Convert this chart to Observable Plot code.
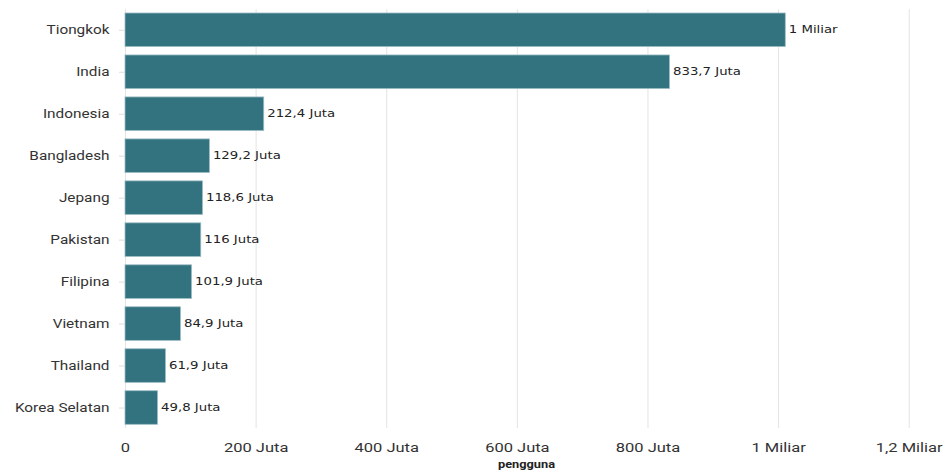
<!DOCTYPE html>
<html><head><meta charset="utf-8">
<script src="https://cdn.jsdelivr.net/npm/d3@7"></script>
<script src="https://cdn.jsdelivr.net/npm/@observablehq/plot@0.6"></script>
<style>
body{margin:0;background:#fff;}
#chart svg{display:block;}
</style>
</head><body><div id="chart"></div>
<script>
const countries = ["Tiongkok","India","Indonesia","Bangladesh","Jepang","Pakistan","Filipina","Vietnam","Thailand","Korea Selatan"];
const users = [1011, 833.7, 212.4, 129.2, 118.6, 116, 101.9, 84.9, 61.9, 49.8]; // juta
const valueLabels = ["1 Miliar","833,7 Juta","212,4 Juta","129,2 Juta","118,6 Juta","116 Juta","101,9 Juta","84,9 Juta","61,9 Juta","49,8 Juta"];
const xTicks = [0, 200, 400, 600, 800, 1000, 1200];
const xTickLabels = ["0","200 Juta","400 Juta","600 Juta","800 Juta","1 Miliar","1,2 Miliar"];
const xTitle = "pengguna";

const data = countries.map((c, i) => ({country: c, value: users[i], label: valueLabels[i]}));
const fmtX = (d) => xTickLabels[xTicks.indexOf(d)];

const chart = Plot.plot({
  width: 945,
  height: 475,
  marginLeft: 125,
  marginRight: 18,
  marginTop: 9.3,
  marginBottom: 47,
  style: {fontFamily: "Roboto, sans-serif", color: "#333", background: "#fff"},
  x: {domain: [0, 1228], ticks: xTicks, tickFormat: fmtX, label: null},
  y: {domain: countries, paddingInner: 0.2, paddingOuter: 0.088, round: false, label: null},
  marks: [
    Plot.gridX(xTicks, {stroke: "#e3e3e3", strokeOpacity: 1, strokeWidth: 1}),
    Plot.barX(data, {x: "value", y: "country", fill: "#33727f", stroke: "#9bbcc4", strokeWidth: 0.8}),
    Plot.text(data, {x: "value", y: "country", text: "label", textAnchor: "start", dx: 3, fontFamily: "DejaVu Sans, Verdana, sans-serif", fontSize: 10, fill: "#222"}),
    Plot.axisY({tickSize: 6, tickPadding: 10, stroke: "#ddd", fontSize: 13, fill: "#333", label: null}),
    Plot.axisX(xTicks, {tickSize: 0, tickPadding: 14.5, fontSize: 13, fill: "#333", tickFormat: fmtX, label: null}),
    Plot.text([xTitle], {frameAnchor: "bottom", dy: 39.5, text: d => d, fontSize: 10, fontWeight: "bold", fill: "#222", fontFamily: "Roboto, sans-serif"})
  ]
});
document.getElementById("chart").appendChild(chart);

// horizontal text stretch to match the reference's wide lettering
function stretchEls(els, s) {
  els.forEach(t => {
    const tr = t.getAttribute("transform");
    if (tr) {
      t.setAttribute("transform", tr + ` scale(${s},1)`);
    } else {
      const x = +(t.getAttribute("x") || 0);
      t.setAttribute("transform", `translate(${x},0) scale(${s},1) translate(${-x},0)`);
    }
  });
}
stretchEls(chart.querySelectorAll('g[aria-label="y-axis tick label"] text'), 1.18);
stretchEls(chart.querySelectorAll('g[aria-label="x-axis tick label"] text'), 1.27);
const textGroups = chart.querySelectorAll('g[aria-label="text"]');
if (textGroups[0]) stretchEls(textGroups[0].querySelectorAll("text"), 1.33);
if (textGroups[1]) stretchEls(textGroups[1].querySelectorAll("text"), 1.28);
</script>
</body></html>
